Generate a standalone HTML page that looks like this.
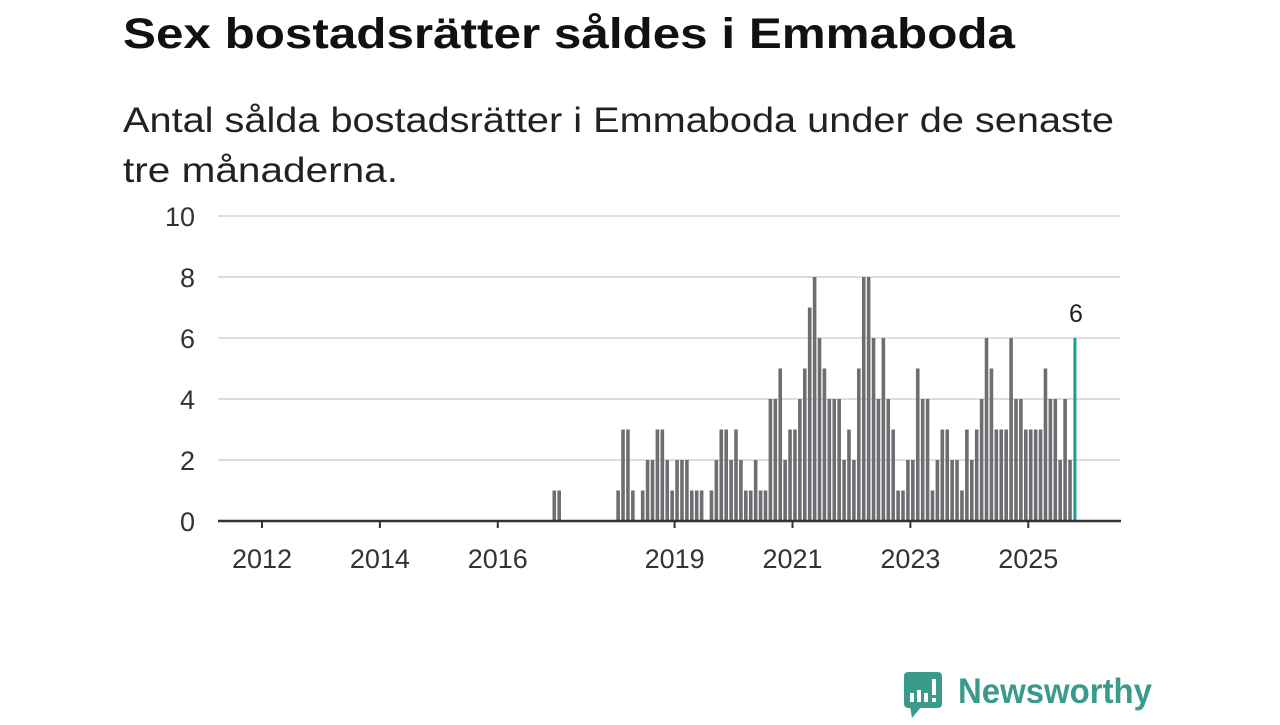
<!DOCTYPE html>
<html><head><meta charset="utf-8">
<style>
body{margin:0;background:#fff;width:1280px;height:720px;overflow:hidden;font-family:"Liberation Sans",sans-serif;}
</style></head>
<body>
<svg id="chart" width="1280" height="720" xmlns="http://www.w3.org/2000/svg">
<text x="123" y="48" font-size="43" font-weight="bold" fill="#111" textLength="892" lengthAdjust="spacingAndGlyphs" font-family="Liberation Sans, sans-serif">Sex bostadsrätter såldes i Emmaboda</text>
<text x="123" y="132" font-size="35" fill="#222" textLength="991" lengthAdjust="spacingAndGlyphs" font-family="Liberation Sans, sans-serif">Antal sålda bostadsrätter i Emmaboda under de senaste</text>
<text x="123" y="182" font-size="35" fill="#222" textLength="275" lengthAdjust="spacingAndGlyphs" font-family="Liberation Sans, sans-serif">tre månaderna.</text>
<g id="grid"></g><g id="bars"></g><g id="axis"></g>
<g>
<rect x="904" y="672" width="38" height="36" rx="4" fill="#3a9a8c"/>
<polygon points="910,706 922,706 912,718" fill="#3a9a8c"/>
<rect x="910" y="693" width="4" height="9" fill="#fff"/><rect x="917" y="690" width="4" height="12" fill="#fff"/><rect x="924" y="693" width="4" height="9" fill="#fff"/><rect x="932" y="679" width="4" height="16" fill="#fff"/><rect x="932" y="698" width="4" height="4" fill="#fff"/>
<text x="958" y="703" font-size="35" font-weight="bold" fill="#3a9a8c" textLength="194" lengthAdjust="spacingAndGlyphs" font-family="Liberation Sans, sans-serif">Newsworthy</text>
</g>
</svg>
<script>
const startMonth = 59; // Dec 2016, months since Jan 2012
const values = [1,1,0,0,0,0,0,0,0,0,0,0,0,
1,3,3,1,0,1,2,2,3,3,2,1,
2,2,2,1,1,1,0,1,2,3,3,2,3,2,1,1,2,1,1,4,4,5,2,3,
3,4,5,7,8,6,5,4,4,4,2,3,2,5,8,8,6,4,6,4,3,1,1,2,2,5,4,4,1,2,
3,3,2,2,1,3,2,3,4,6,5,3,3,3,6,4,4,3,3,3,3,5,4,4,2,4,2,6];
const yTicks = [0,2,4,6,8,10];
const xTickYears = [2012,2014,2016,2019,2021,2023,2025];
const NS="http://www.w3.org/2000/svg";
const x = m => 262 + m*4.912;
const y = v => 521 - v*30.5;
function mk(tag, attrs, parent){const e=document.createElementNS(NS,tag);for(const k in attrs)e.setAttribute(k,attrs[k]);parent.appendChild(e);return e;}
const grid=document.getElementById('grid'), bars=document.getElementById('bars'), axis=document.getElementById('axis');
yTicks.forEach(v=>{
  if(v>0){const l=mk('line',{x1:218,x2:1120,y1:y(v),y2:y(v),stroke:'#ddd','stroke-width':2},grid);
  
  }
  const t=mk('text',{x:195,y:y(v)+10,'text-anchor':'end','font-size':27,fill:'#333'},grid);
  t.textContent=v;
  
  
});
values.forEach((v,i)=>{
  if(v<=0)return;
  const m=startMonth+i, last=i===values.length-1;
  const cx=x(m+0.5);
  const r=mk('rect',{x:last?cx-1.5:cx-1.8,y:y(v),width:last?3:3.6,height:y(0)-y(v),fill:last?'#1a9e96':'#6e6e72'},bars);
  
  
  if(last){const t=mk('text',{x:cx+1,y:y(v)-16,'text-anchor':'middle','font-size':25,fill:'#222'},bars);
    t.textContent=v;
    
    }
});
const ax=mk('line',{x1:218,x2:1121,y1:521,y2:521,stroke:'#333','stroke-width':2.5},axis);


xTickYears.forEach(yr=>{
  const px=x((yr-2012)*12);
  const tk=mk('line',{x1:px,x2:px,y1:521,y2:528,stroke:'#333','stroke-width':2},axis);
  
  
  const t=mk('text',{x:px,y:568,'text-anchor':'middle','font-size':27,fill:'#333'},axis);
  t.textContent=yr;
  
  
});
</script>
</body></html>
